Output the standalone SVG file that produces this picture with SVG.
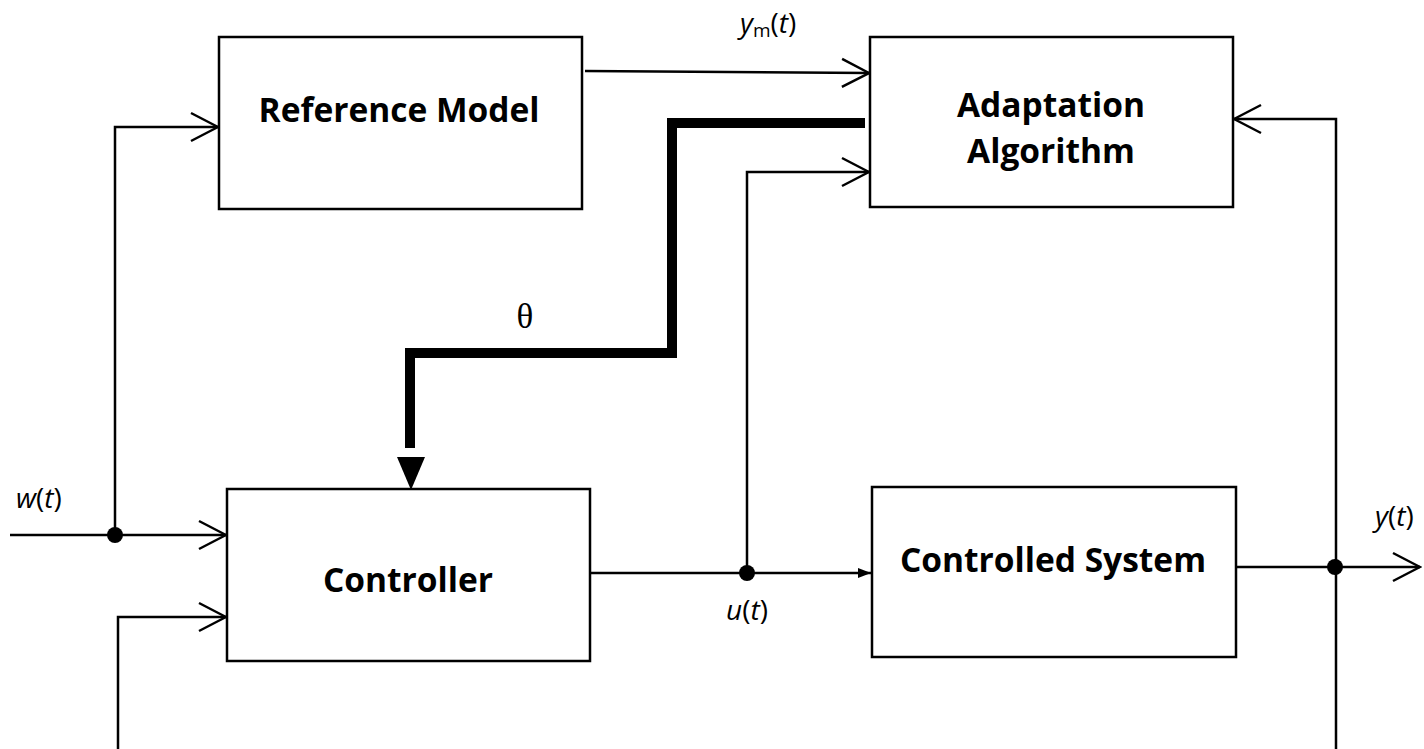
<svg xmlns="http://www.w3.org/2000/svg" width="1424" height="749" viewBox="0 0 1424 749">
<style>
.box{fill:#fff;stroke:#000;stroke-width:2.5}
.ln{fill:none;stroke:#000;stroke-width:2.5}
.thick{fill:none;stroke:#000;stroke-width:10}
.lbl{font-family:"Open Sans","Liberation Sans",sans-serif;font-weight:bold;font-size:33.5px;fill:#000;text-anchor:middle}
.it{font-family:"Open Sans","Liberation Sans",sans-serif;font-style:italic;font-size:28px;fill:#000}
.rm{font-style:normal}
</style>
<defs>
<marker id="open" markerWidth="30" markerHeight="32" refX="28" refY="16" orient="auto" markerUnits="userSpaceOnUse">
<path d="M1,2 L28,16 L1,30" fill="none" stroke="#000" stroke-width="2.5"/>
</marker>
<marker id="small" markerWidth="14" markerHeight="12" refX="13" refY="6" orient="auto" markerUnits="userSpaceOnUse">
<path d="M0,1 L13,6 L0,11 Z" fill="#000"/>
</marker>
</defs>
<g id="connectors">
<path class="ln" d="M585,71 L869,73" marker-end="url(#open)"/>
<path class="thick" d="M865,123 L672,123 L672,353 L410,353 L410,448"/>
<path d="M397,457 L425,457 L411,490 Z" fill="#000"/>
<path class="ln" d="M747,573 L747,172 L869,172" marker-end="url(#open)"/>
<path class="ln" d="M10,535 L226,535" marker-end="url(#open)"/>
<path class="ln" d="M115,535 L115,127 L218,127" marker-end="url(#open)"/>
<path class="ln" d="M118,749 L118,617 L226,617" marker-end="url(#open)"/>
<path class="ln" d="M590,573 L871,573" marker-end="url(#small)"/>
<path class="ln" d="M1236,567 L1420,567" marker-end="url(#open)"/>
<path class="ln" d="M1336,749 L1336,119 L1234,119" marker-end="url(#open)"/>
<circle cx="115" cy="535" r="8"/>
<circle cx="747" cy="573" r="8"/>
<circle cx="1335" cy="567" r="8"/>
</g>
<g id="reference-model">
<rect class="box" x="219" y="37" width="363" height="172"/>
<text class="lbl" x="399" y="122">Reference Model</text>
</g>
<g id="adaptation-algorithm">
<rect class="box" x="870" y="37" width="363" height="170"/>
<text class="lbl" x="1051" y="117">Adaptation</text>
<text class="lbl" x="1051" y="163">Algorithm</text>
</g>
<g id="controller">
<rect class="box" x="227" y="489" width="363" height="172"/>
<text class="lbl" x="408" y="592">Controller</text>
</g>
<g id="controlled-system">
<rect class="box" x="872" y="487" width="364" height="170"/>
<text class="lbl" x="1053" y="572" font-size="32.5">Controlled System</text>
</g>
<g id="labels">
<text class="it" x="740" y="33">y<tspan class="rm" font-size="19" dy="4">m</tspan><tspan class="rm" dy="-4">(</tspan>t<tspan class="rm">)</tspan></text>
<text class="it" x="16" y="508">w<tspan class="rm">(</tspan>t<tspan class="rm">)</tspan></text>
<text class="it" x="747" y="620" text-anchor="middle">u<tspan class="rm">(</tspan>t<tspan class="rm">)</tspan></text>
<text class="it" x="1375" y="526">y<tspan class="rm">(</tspan>t<tspan class="rm">)</tspan></text>
<text x="525" y="328" font-family="'Liberation Serif',serif" font-size="35" text-anchor="middle">θ</text>
</g>
</svg>
